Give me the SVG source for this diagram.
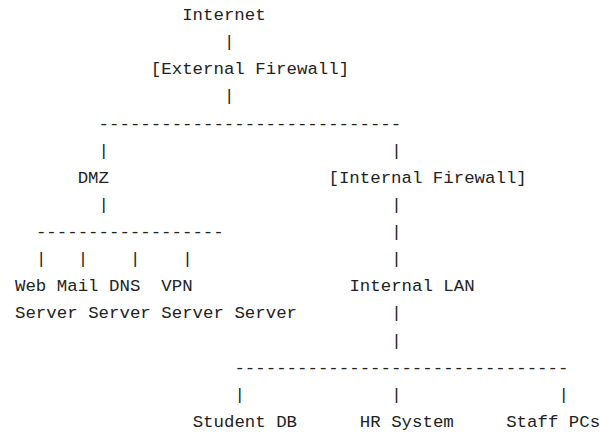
<svg xmlns="http://www.w3.org/2000/svg" width="600" height="437" viewBox="0 0 600 437">
<style>
text{font-family:"Liberation Mono","DejaVu Sans Mono",monospace;font-size:17.4px;fill:#222;white-space:pre}
.c{fill:#333}
</style>
<rect width="600" height="437" fill="#fff"/>
<g id="connectors" class="c">
<text x="224" y="47.1">|</text>
<text x="224" y="101.4">|</text>
<text x="98.6" y="128.5">-----------------------------</text>
<text x="98.6" y="155.6">|</text>
<text x="391.2" y="155.6">|</text>
<text x="98.6" y="209.9">|</text>
<text x="391.2" y="209.9">|</text>
<text x="35.9" y="237">------------------</text>
<text x="391.2" y="237">|</text>
<text x="35.9" y="264.2">|</text>
<text x="77.7" y="264.2">|</text>
<text x="129.95" y="264.2">|</text>
<text x="182.2" y="264.2">|</text>
<text x="391.2" y="264.2">|</text>
<text x="391.2" y="318.4">|</text>
<text x="391.2" y="345.6">|</text>
<text x="234.45" y="372.7">--------------------------------</text>
<text x="234.45" y="399.8">|</text>
<text x="391.2" y="399.8">|</text>
<text x="558.4" y="399.8">|</text>
</g>
<g id="internet"><text x="182.2" y="20">Internet</text></g>
<g id="external-firewall"><text x="150.85" y="74.3">[External Firewall]</text></g>
<g id="dmz"><text x="77.7" y="182.8">DMZ</text></g>
<g id="internal-firewall"><text x="328.5" y="182.8">[Internal Firewall]</text></g>
<g id="web-server"><text x="15" y="291.3">Web</text><text x="15" y="318.4">Server</text></g>
<g id="mail-server"><text x="56.8" y="291.3">Mail</text><text x="88.15" y="318.4">Server</text></g>
<g id="dns-server"><text x="109.05" y="291.3">DNS</text><text x="161.3" y="318.4">Server</text></g>
<g id="vpn-server"><text x="161.3" y="291.3">VPN</text><text x="234.45" y="318.4">Server</text></g>
<g id="internal-lan"><text x="349.4" y="291.3">Internal LAN</text></g>
<g id="student-db"><text x="192.65" y="427">Student DB</text></g>
<g id="hr-system"><text x="359.85" y="427">HR System</text></g>
<g id="staff-pcs"><text x="506.15" y="427">Staff PCs</text></g>
</svg>
